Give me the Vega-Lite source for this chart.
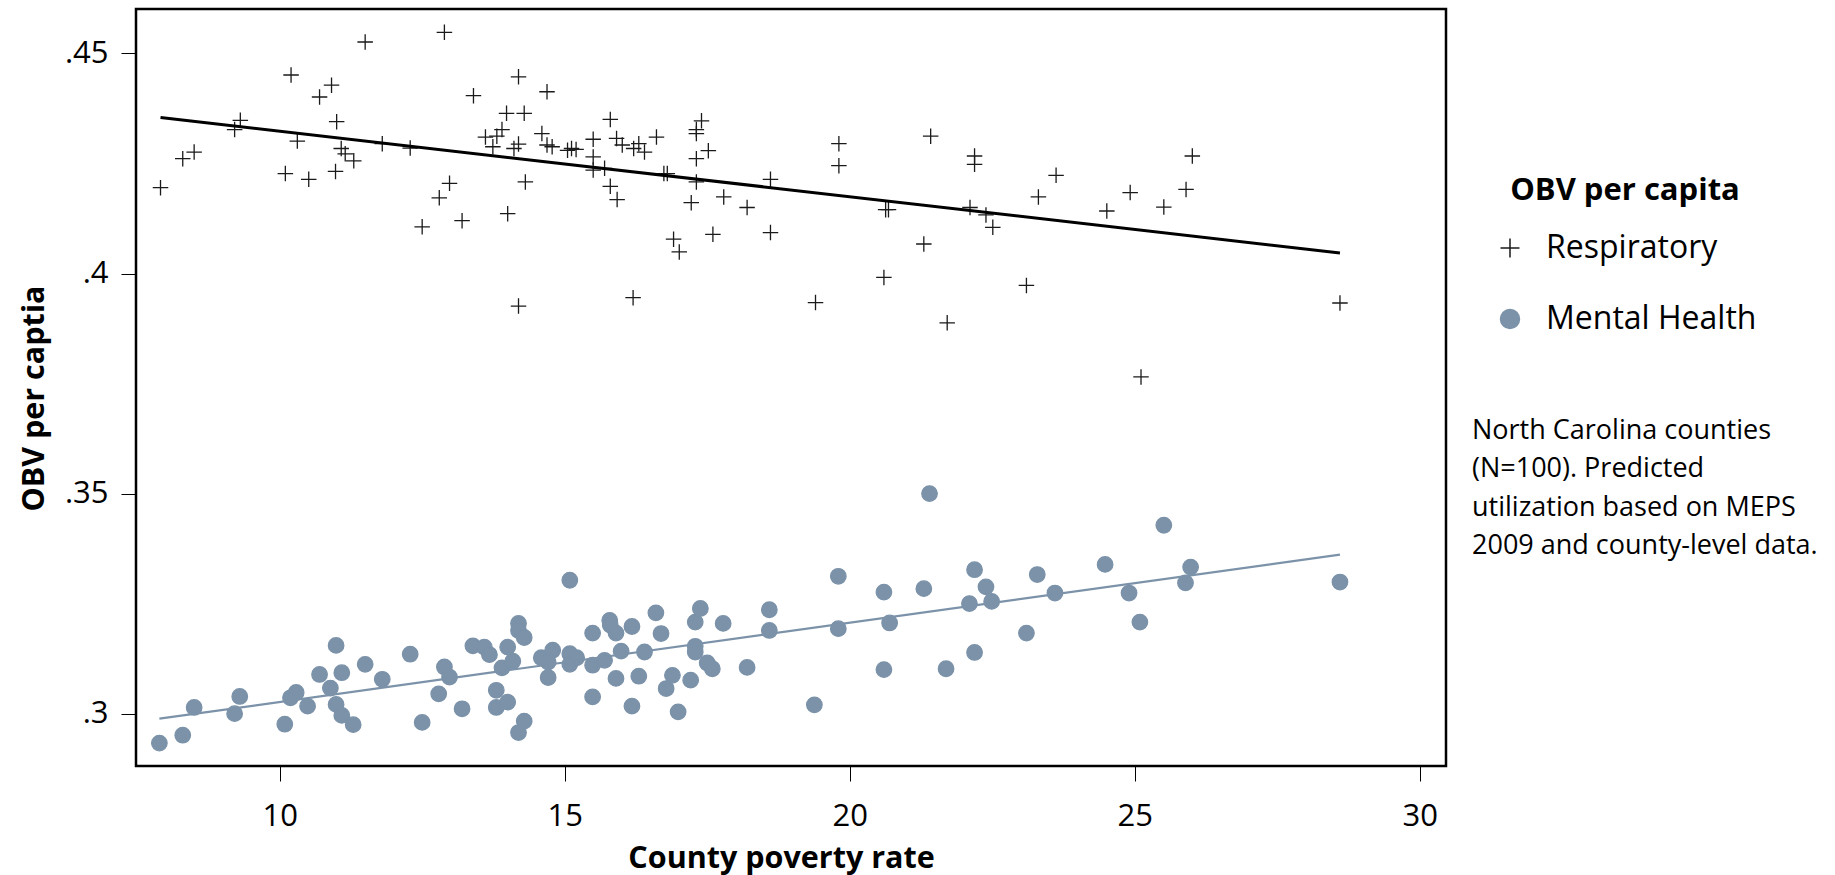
{
"$schema": "https://vega.github.io/schema/vega-lite/v6.json",
"width": 1310, "height": 757,
"autosize": "none",
"padding": {"left": 136, "top": 9, "right": 389, "bottom": 109},
"background": "#ffffff",
"config": {
  "font": "Open Sans",
  "view": {"stroke": "#000000", "strokeWidth": 2.5},
  "axis": {"domain": false, "grid": false, "ticks": true, "tickSize": 15, "tickColor": "#000000", "tickWidth": 1, "labelFontSize": 31, "labelColor": "#000000", "labelFont": "Open Sans", "titleFont": "Open Sans", "titleFontSize": 30.5, "titleFontWeight": "bold", "titleColor": "#000000"},
  "legend": {"orient": "none", "legendX": 1358, "legendY": 167, "padding": 0, "titleFontSize": 31, "titleFontWeight": "bold", "titleColor": "#000000", "titleAnchor": "middle", "titlePadding": 25, "labelFontSize": 32, "labelColor": "#000000", "labelFont": "Open Sans", "titleFont": "Open Sans", "labelLimit": 500, "titleLimit": 500, "symbolSize": 360, "symbolStrokeWidth": 1.5, "rowPadding": 39, "labelOffset": 20}
},
"title": {"text": ["North Carolina counties", "(N=100). Predicted", "utilization based on MEPS", "2009 and county-level data."], "anchor": "start", "frame": "group", "orient": "top", "baseline": "top", "align": "left", "fontSize": 27, "fontWeight": "normal", "font": "Open Sans", "color": "#000000", "lineHeight": 38.5, "dx": 1336, "dy": 555},
"data": {"values": [
{"p":7.91,"s":"Respiratory","v":0.4195},{"p":8.30,"s":"Respiratory","v":0.4261},{"p":8.50,"s":"Respiratory","v":0.4276},{"p":9.21,"s":"Respiratory","v":0.4327},{"p":9.31,"s":"Respiratory","v":0.4348},{"p":10.10,"s":"Respiratory","v":0.4227},{"p":10.20,"s":"Respiratory","v":0.4451},{"p":10.31,"s":"Respiratory","v":0.4301},{"p":10.51,"s":"Respiratory","v":0.4214},{"p":10.70,"s":"Respiratory","v":0.4401},{"p":10.91,"s":"Respiratory","v":0.4428},{"p":11.00,"s":"Respiratory","v":0.4345},{"p":10.98,"s":"Respiratory","v":0.4232},{"p":11.08,"s":"Respiratory","v":0.4284},{"p":11.15,"s":"Respiratory","v":0.4272},{"p":11.30,"s":"Respiratory","v":0.4256},{"p":11.50,"s":"Respiratory","v":0.4526},{"p":11.80,"s":"Respiratory","v":0.4295},{"p":12.29,"s":"Respiratory","v":0.4285},{"p":12.50,"s":"Respiratory","v":0.4106},{"p":12.80,"s":"Respiratory","v":0.4172},{"p":12.98,"s":"Respiratory","v":0.4205},{"p":12.89,"s":"Respiratory","v":0.4548},{"p":13.20,"s":"Respiratory","v":0.4120},{"p":13.40,"s":"Respiratory","v":0.4404},{"p":13.61,"s":"Respiratory","v":0.4310},{"p":13.74,"s":"Respiratory","v":0.4288},{"p":13.81,"s":"Respiratory","v":0.4312},{"p":13.90,"s":"Respiratory","v":0.4327},{"p":13.98,"s":"Respiratory","v":0.4364},{"p":14.00,"s":"Respiratory","v":0.4136},{"p":14.11,"s":"Respiratory","v":0.4284},{"p":14.19,"s":"Respiratory","v":0.4447},{"p":14.19,"s":"Respiratory","v":0.4294},{"p":14.19,"s":"Respiratory","v":0.3926},{"p":14.29,"s":"Respiratory","v":0.4364},{"p":14.31,"s":"Respiratory","v":0.4208},{"p":14.69,"s":"Respiratory","v":0.4413},{"p":14.60,"s":"Respiratory","v":0.4318},{"p":14.69,"s":"Respiratory","v":0.4292},{"p":14.78,"s":"Respiratory","v":0.4288},{"p":15.05,"s":"Respiratory","v":0.4280},{"p":15.12,"s":"Respiratory","v":0.4284},{"p":15.20,"s":"Respiratory","v":0.4282},{"p":15.50,"s":"Respiratory","v":0.4305},{"p":15.50,"s":"Respiratory","v":0.4265},{"p":15.50,"s":"Respiratory","v":0.4235},{"p":15.70,"s":"Respiratory","v":0.4239},{"p":15.80,"s":"Respiratory","v":0.4350},{"p":15.80,"s":"Respiratory","v":0.4198},{"p":15.91,"s":"Respiratory","v":0.4307},{"p":15.92,"s":"Respiratory","v":0.4168},{"p":16.01,"s":"Respiratory","v":0.4292},{"p":16.20,"s":"Respiratory","v":0.3945},{"p":16.21,"s":"Respiratory","v":0.4284},{"p":16.30,"s":"Respiratory","v":0.4295},{"p":16.40,"s":"Respiratory","v":0.4276},{"p":16.61,"s":"Respiratory","v":0.4310},{"p":16.74,"s":"Respiratory","v":0.4227},{"p":16.80,"s":"Respiratory","v":0.4227},{"p":16.91,"s":"Respiratory","v":0.4078},{"p":17.01,"s":"Respiratory","v":0.4049},{"p":17.22,"s":"Respiratory","v":0.4161},{"p":17.31,"s":"Respiratory","v":0.4327},{"p":17.31,"s":"Respiratory","v":0.4318},{"p":17.40,"s":"Respiratory","v":0.4347},{"p":17.31,"s":"Respiratory","v":0.4261},{"p":17.31,"s":"Respiratory","v":0.4208},{"p":17.52,"s":"Respiratory","v":0.4279},{"p":17.60,"s":"Respiratory","v":0.4089},{"p":17.79,"s":"Respiratory","v":0.4174},{"p":18.20,"s":"Respiratory","v":0.4150},{"p":18.61,"s":"Respiratory","v":0.4214},{"p":18.61,"s":"Respiratory","v":0.4093},{"p":19.40,"s":"Respiratory","v":0.3934},{"p":19.81,"s":"Respiratory","v":0.4295},{"p":19.81,"s":"Respiratory","v":0.4245},{"p":20.60,"s":"Respiratory","v":0.3991},{"p":20.63,"s":"Respiratory","v":0.4145},{"p":20.68,"s":"Respiratory","v":0.4145},{"p":21.30,"s":"Respiratory","v":0.4067},{"p":21.42,"s":"Respiratory","v":0.4312},{"p":21.71,"s":"Respiratory","v":0.3888},{"p":22.19,"s":"Respiratory","v":0.4267},{"p":22.19,"s":"Respiratory","v":0.4248},{"p":22.11,"s":"Respiratory","v":0.4150},{"p":22.39,"s":"Respiratory","v":0.4133},{"p":22.51,"s":"Respiratory","v":0.4105},{"p":23.10,"s":"Respiratory","v":0.3973},{"p":23.31,"s":"Respiratory","v":0.4174},{"p":23.62,"s":"Respiratory","v":0.4223},{"p":24.51,"s":"Respiratory","v":0.4142},{"p":24.92,"s":"Respiratory","v":0.4184},{"p":25.11,"s":"Respiratory","v":0.3765},{"p":25.51,"s":"Respiratory","v":0.4151},{"p":25.90,"s":"Respiratory","v":0.4191},{"p":26.01,"s":"Respiratory","v":0.4267},{"p":28.60,"s":"Respiratory","v":0.3933},
{"p":7.89,"s":"Mental Health","v":0.2933},{"p":8.30,"s":"Mental Health","v":0.2951},{"p":8.50,"s":"Mental Health","v":0.3014},{"p":9.21,"s":"Mental Health","v":0.3000},{"p":9.30,"s":"Mental Health","v":0.3039},{"p":10.09,"s":"Mental Health","v":0.2976},{"p":10.19,"s":"Mental Health","v":0.3036},{"p":10.29,"s":"Mental Health","v":0.3048},{"p":10.49,"s":"Mental Health","v":0.3017},{"p":10.70,"s":"Mental Health","v":0.3089},{"p":10.89,"s":"Mental Health","v":0.3058},{"p":10.99,"s":"Mental Health","v":0.3155},{"p":10.99,"s":"Mental Health","v":0.3021},{"p":11.09,"s":"Mental Health","v":0.3093},{"p":11.09,"s":"Mental Health","v":0.2996},{"p":11.29,"s":"Mental Health","v":0.2975},{"p":11.50,"s":"Mental Health","v":0.3112},{"p":11.80,"s":"Mental Health","v":0.3078},{"p":12.29,"s":"Mental Health","v":0.3135},{"p":12.50,"s":"Mental Health","v":0.2980},{"p":12.79,"s":"Mental Health","v":0.3045},{"p":12.89,"s":"Mental Health","v":0.3106},{"p":12.98,"s":"Mental Health","v":0.3083},{"p":13.20,"s":"Mental Health","v":0.3011},{"p":13.39,"s":"Mental Health","v":0.3154},{"p":13.59,"s":"Mental Health","v":0.3151},{"p":13.68,"s":"Mental Health","v":0.3134},{"p":13.80,"s":"Mental Health","v":0.3053},{"p":13.80,"s":"Mental Health","v":0.3014},{"p":13.90,"s":"Mental Health","v":0.3104},{"p":14.00,"s":"Mental Health","v":0.3151},{"p":14.00,"s":"Mental Health","v":0.3026},{"p":14.09,"s":"Mental Health","v":0.3119},{"p":14.19,"s":"Mental Health","v":0.3205},{"p":14.19,"s":"Mental Health","v":0.3189},{"p":14.29,"s":"Mental Health","v":0.3173},{"p":14.29,"s":"Mental Health","v":0.2983},{"p":14.19,"s":"Mental Health","v":0.2957},{"p":14.59,"s":"Mental Health","v":0.3127},{"p":14.79,"s":"Mental Health","v":0.3144},{"p":14.71,"s":"Mental Health","v":0.3117},{"p":14.71,"s":"Mental Health","v":0.3082},{"p":15.09,"s":"Mental Health","v":0.3303},{"p":15.09,"s":"Mental Health","v":0.3136},{"p":15.09,"s":"Mental Health","v":0.3112},{"p":15.21,"s":"Mental Health","v":0.3127},{"p":15.49,"s":"Mental Health","v":0.3183},{"p":15.49,"s":"Mental Health","v":0.3110},{"p":15.49,"s":"Mental Health","v":0.3038},{"p":15.70,"s":"Mental Health","v":0.3121},{"p":15.79,"s":"Mental Health","v":0.3212},{"p":15.80,"s":"Mental Health","v":0.3201},{"p":15.90,"s":"Mental Health","v":0.3183},{"p":15.90,"s":"Mental Health","v":0.3080},{"p":15.99,"s":"Mental Health","v":0.3142},{"p":16.18,"s":"Mental Health","v":0.3198},{"p":16.18,"s":"Mental Health","v":0.3017},{"p":16.30,"s":"Mental Health","v":0.3085},{"p":16.40,"s":"Mental Health","v":0.3140},{"p":16.60,"s":"Mental Health","v":0.3229},{"p":16.69,"s":"Mental Health","v":0.3182},{"p":16.78,"s":"Mental Health","v":0.3057},{"p":16.89,"s":"Mental Health","v":0.3087},{"p":16.99,"s":"Mental Health","v":0.3004},{"p":17.21,"s":"Mental Health","v":0.3076},{"p":17.29,"s":"Mental Health","v":0.3208},{"p":17.29,"s":"Mental Health","v":0.3153},{"p":17.29,"s":"Mental Health","v":0.3140},{"p":17.38,"s":"Mental Health","v":0.3239},{"p":17.50,"s":"Mental Health","v":0.3115},{"p":17.59,"s":"Mental Health","v":0.3102},{"p":17.78,"s":"Mental Health","v":0.3205},{"p":18.20,"s":"Mental Health","v":0.3105},{"p":18.59,"s":"Mental Health","v":0.3236},{"p":18.59,"s":"Mental Health","v":0.3189},{"p":19.38,"s":"Mental Health","v":0.3020},{"p":19.80,"s":"Mental Health","v":0.3312},{"p":19.80,"s":"Mental Health","v":0.3193},{"p":20.60,"s":"Mental Health","v":0.3276},{"p":20.60,"s":"Mental Health","v":0.3100},{"p":20.70,"s":"Mental Health","v":0.3206},{"p":21.30,"s":"Mental Health","v":0.3284},{"p":21.40,"s":"Mental Health","v":0.3500},{"p":21.69,"s":"Mental Health","v":0.3102},{"p":22.19,"s":"Mental Health","v":0.3327},{"p":22.10,"s":"Mental Health","v":0.3250},{"p":22.39,"s":"Mental Health","v":0.3288},{"p":22.49,"s":"Mental Health","v":0.3255},{"p":22.19,"s":"Mental Health","v":0.3139},{"p":23.10,"s":"Mental Health","v":0.3183},{"p":23.29,"s":"Mental Health","v":0.3316},{"p":23.60,"s":"Mental Health","v":0.3274},{"p":24.48,"s":"Mental Health","v":0.3339},{"p":24.90,"s":"Mental Health","v":0.3274},{"p":25.09,"s":"Mental Health","v":0.3208},{"p":25.51,"s":"Mental Health","v":0.3428},{"p":25.89,"s":"Mental Health","v":0.3297},{"p":25.98,"s":"Mental Health","v":0.3333},{"p":28.60,"s":"Mental Health","v":0.3299}
]},
"encoding": {
  "x": {"field": "p", "type": "quantitative", "scale": {"domain": [7.48, 30.46], "nice": false, "zero": false}, "axis": {"values": [10, 15, 20, 25, 30], "format": "d", "title": "County poverty rate", "labelPadding": 20, "titlePadding": 12, "titleX": 645}},
  "y": {"field": "v", "type": "quantitative", "scale": {"domain": [0.2881, 0.4601], "nice": false, "zero": false}, "axis": {"values": [0.3, 0.35, 0.4, 0.45], "labelExpr": "replace(format(datum.value, '.2~f'), '0.', '.')", "title": "OBV per captia", "labelPadding": 13, "titlePadding": 15, "titleY": 389}}
},
"layer": [
  {"mark": {"type": "point", "filled": true, "size": 240, "strokeWidth": 1.3, "opacity": 1},
   "encoding": {
     "shape": {"field": "s", "type": "nominal", "title": "OBV per capita", "scale": {"domain": ["Respiratory", "Mental Health"], "range": ["M-1,0L1,0M0,-1L0,1", "circle"]}},
     "fill": {"field": "s", "type": "nominal", "title": "OBV per capita", "scale": {"domain": ["Respiratory", "Mental Health"], "range": ["#1a1a1a", "#7b92a9"]}},
     "stroke": {"field": "s", "type": "nominal", "title": "OBV per capita", "scale": {"domain": ["Respiratory", "Mental Health"], "range": ["#1a1a1a", "#7b92a9"]}}
   }},
  {"transform": [{"filter": "datum.s === 'Respiratory'"}, {"regression": "v", "on": "p"}],
   "mark": {"type": "line", "color": "#000000", "strokeWidth": 3},
   "encoding": {}},
  {"transform": [{"filter": "datum.s === 'Mental Health'"}, {"regression": "v", "on": "p"}],
   "mark": {"type": "line", "color": "#7b92a9", "strokeWidth": 2.2},
   "encoding": {}}
]
}
